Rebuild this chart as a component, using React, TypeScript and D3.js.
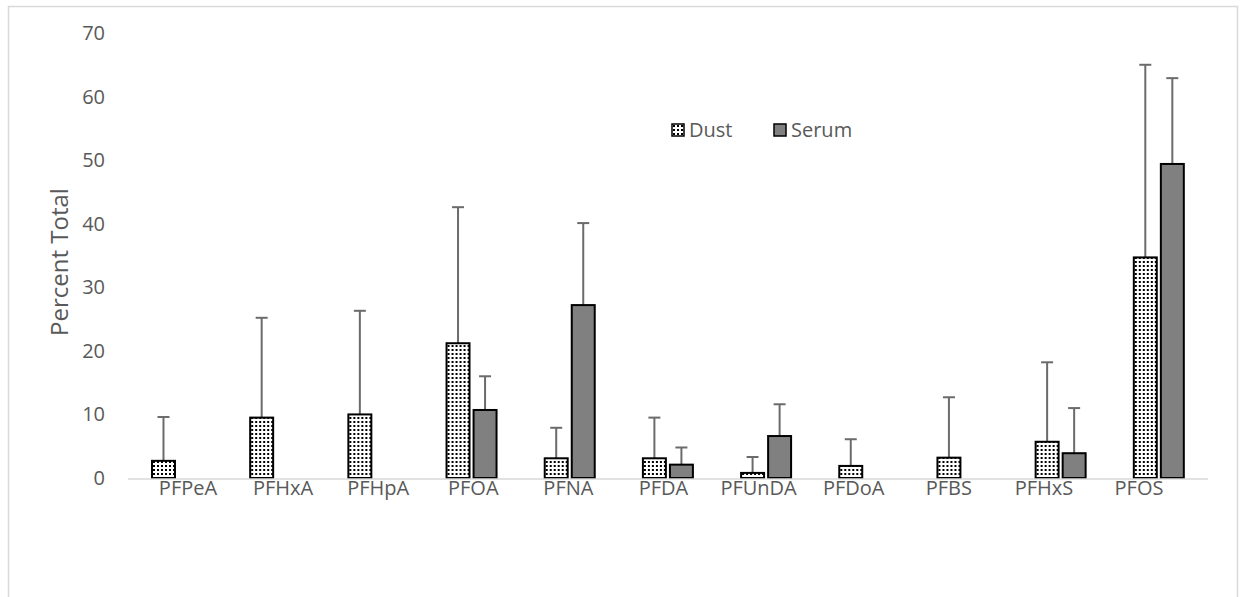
import React from "react";
import * as d3 from "d3";

const categories = ["PFPeA", "PFHxA", "PFHpA", "PFOA", "PFNA", "PFDA", "PFUnDA", "PFDoA", "PFBS", "PFHxS", "PFOS"];
const dustMean = [2.7, 9.5, 10.0, 21.2, 3.1, 3.1, 0.8, 1.9, 3.2, 5.7, 34.7];
const dustErr = [6.9, 15.7, 16.3, 21.4, 4.8, 6.4, 2.5, 4.2, 9.5, 12.5, 30.3];
const serumMean = [0, 0, 0, 10.7, 27.2, 2.1, 6.6, 0, 0, 3.9, 49.4];
const serumErr = [0, 0, 0, 5.3, 12.9, 2.7, 5.0, 0, 0, 7.1, 13.5];
const seriesNames = ["Dust", "Serum"];
const yTicks = [0, 10, 20, 30, 40, 50, 60, 70];

const W = 1245;
const H = 597;
const font = "'Open Sans', sans-serif";
const textColor = "#595959";

export default function App() {
  const x = d3.scaleBand<string>().domain(categories).range([128, 1208]).padding(0);
  const x1 = d3.scaleBand<string>().domain(seriesNames).range([24, 74]).paddingInner(0.15);
  // category labels sit on their own spread in the original
  const xLabel = d3.scalePoint<string>().domain(categories).range([188, 1139]);
  const y = d3.scaleLinear().domain([0, 70]).range([478, 33]);

  const rows = categories.map((c, i) => ({
    cat: c,
    vals: [
      { s: "Dust", v: dustMean[i], e: dustErr[i] },
      { s: "Serum", v: serumMean[i], e: serumErr[i] },
    ],
  }));

  return (
    <svg width={W} height={H} style={{ position: "absolute", left: 0, top: 0, background: "#fff" }}>
      <defs>
        <pattern id="dots" width="4" height="4" patternUnits="userSpaceOnUse">
          <rect width="4" height="4" fill="#fff" />
          <rect x="1" y="1" width="2" height="2" fill="#000" />
        </pattern>
      </defs>
      <rect x={8.5} y={6.5} width={1229} height={600} fill="#fff" stroke="#d9d9d9" strokeWidth={1.5} />

      {/* y ticks */}
      {yTicks.map((t) => (
        <text key={t} x={105} y={y(t)} dy="0.35em" textAnchor="end" fontFamily={font} fontSize={20} fill={textColor}>
          {t}
        </text>
      ))}
      <text
        transform={`translate(60,262) rotate(-90)`}
        textAnchor="middle"
        dy="0.35em"
        fontFamily={font}
        fontSize={24}
        fill={textColor}
      >
        Percent Total
      </text>

      {/* bars */}
      {rows.map((r) => (
        <g key={r.cat} transform={`translate(${x(r.cat)},0)`}>
          {r.vals.map((d) => {
            const bx = x1(d.s)!;
            const bw = x1.bandwidth();
            if (d.v <= 0) return null;
            return (
              <g key={d.s}>
                <line x1={bx + bw / 2} x2={bx + bw / 2} y1={y(d.v)} y2={y(d.v + d.e)} stroke="#6b6b6b" strokeWidth={2} />
                <line x1={bx + bw / 2 - 6} x2={bx + bw / 2 + 6} y1={y(d.v + d.e)} y2={y(d.v + d.e)} stroke="#6b6b6b" strokeWidth={2} />
                <rect
                  x={bx}
                  y={y(d.v)}
                  width={bw}
                  height={y(0) - y(d.v)}
                  fill={d.s === "Dust" ? "url(#dots)" : "#808080"}
                  stroke="#000"
                  strokeWidth={2}
                />
              </g>
            );
          })}
        </g>
      ))}

      {/* x axis */}
      <line x1={128} x2={1208} y1={y(0) + 1} y2={y(0) + 1} stroke="#d9d9d9" strokeWidth={1.5} />
      {categories.map((c) => (
        <text key={c} x={xLabel(c)} y={y(0) + 3} dy="0.71em" textAnchor="middle" fontFamily={font} fontSize={20} fill={textColor}>
          {c}
        </text>
      ))}

      {/* legend */}
      {seriesNames.map((s, i) => (
        <g key={s} transform={`translate(${672 + i * 102},124)`}>
          <rect x={0} y={0} width={12} height={12} fill={s === "Dust" ? "url(#dots)" : "#808080"} stroke="#000" strokeWidth={1.5} />
          <text x={17} y={6} dy="0.35em" fontFamily={font} fontSize={20} fill={textColor}>
            {s}
          </text>
        </g>
      ))}
    </svg>
  );
}
